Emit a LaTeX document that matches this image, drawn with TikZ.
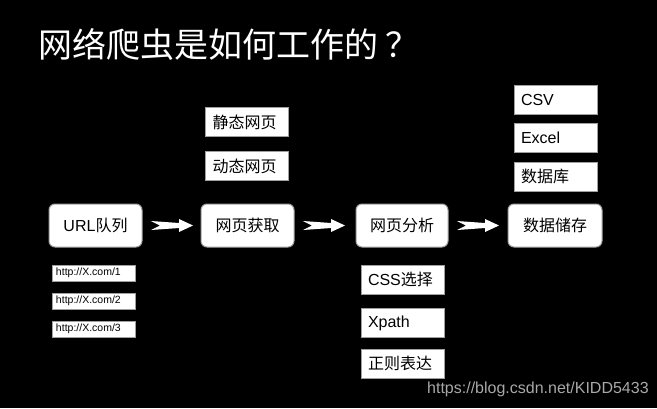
\documentclass[tikz,border=0pt]{standalone}
\usepackage{fontspec}
\setmainfont{Liberation Sans}
\newfontfamily\cjk{Noto Sans CJK SC}
\usetikzlibrary{calc}
\definecolor{boxgray}{HTML}{A0A0A0}
\definecolor{wmgray}{HTML}{A8A8A8}
\tikzset{
  mainbox/.style={draw=boxgray, fill=white, line width=1pt, rounded corners=6pt,
    minimum width=93pt, minimum height=43pt, inner sep=0pt,
    font=\fontsize{16}{19}\selectfont, text=black},
  subbox/.style={draw=boxgray, fill=white, line width=1pt,
    inner xsep=7pt, inner ysep=0pt, text width=69pt, align=left,
    minimum height=29pt, font=\fontsize{16}{19}\selectfont, text=black},
  urlbox/.style={draw=boxgray, fill=white, line width=0.8pt,
    inner xsep=4pt, inner ysep=0pt, text width=75pt, align=left,
    minimum height=16pt, font=\fontsize{10.5}{12}\selectfont, text=black},
  fatarrow/.style={fill=white, draw=none}
}
\newcommand{\fatarr}[2]{%
  \fill[fatarrow, shift={($(#1.east)+(8.5,0)$)}]
    (0,-4.5) -- (28,-2.5) -- (28,-6.5) -- (42,0) -- (28,6.5) -- (28,2.5)
    -- (0,4.5) -- (9,0) -- cycle;
  \path ($(#1.east)+(8.5,0)$) -- (#2.west);%
}
\begin{document}
\begin{tikzpicture}[x=1pt,y=-1pt]
\fill[black] (0,0) rectangle (657,408);
\useasboundingbox (0,0) rectangle (657,408);

\node[anchor=west, text=white, inner sep=0pt,
  font=\cjk\fontsize{34}{36}\selectfont] (title) at (38,44) {网络爬虫是如何工作的\hspace{7pt}？};

\node[mainbox] (url)   at (95.5,225.5) {URL{\cjk 队列}};
\node[mainbox] (fetch) at (247.5,225.5) {\cjk 网页获取};
\node[mainbox, minimum width=92pt] (parse) at (402,225.5) {\cjk 网页分析};
\node[mainbox, minimum width=94pt] (store) at (555,225.5) {\cjk 数据储存};

\fatarr{url}{fetch}
\fatarr{fetch}{parse}
\fatarr{parse}{store}

\node[subbox] (static)  at (247,122) {\cjk 静态网页};
\node[subbox] (dynamic) at (247,166) {\cjk 动态网页};

\node[subbox] (csv)   at (555.5,99.5)  {CSV};
\node[subbox] (excel) at (555.5,137.5) {Excel};
\node[subbox] (db)    at (555.5,176.5) {\cjk 数据库};

\node[subbox] (css)   at (402.5,279.5) {CSS{\cjk 选择}};
\node[subbox] (xpath) at (402.5,323)   {Xpath};
\node[subbox] (regex) at (402.5,363.5) {\cjk 正则表达};

\node[urlbox] (u1) at (93.5,273) {http://X.com/1};
\node[urlbox] (u2) at (93.5,301) {http://X.com/2};
\node[urlbox] (u3) at (93.5,329) {http://X.com/3};

\node[anchor=base west, inner sep=0pt, text=wmgray,
  font=\fontsize{16}{19}\selectfont] (wm) at (427,393) {https://blog.csdn.net/KIDD5433};
\end{tikzpicture}
\end{document}
